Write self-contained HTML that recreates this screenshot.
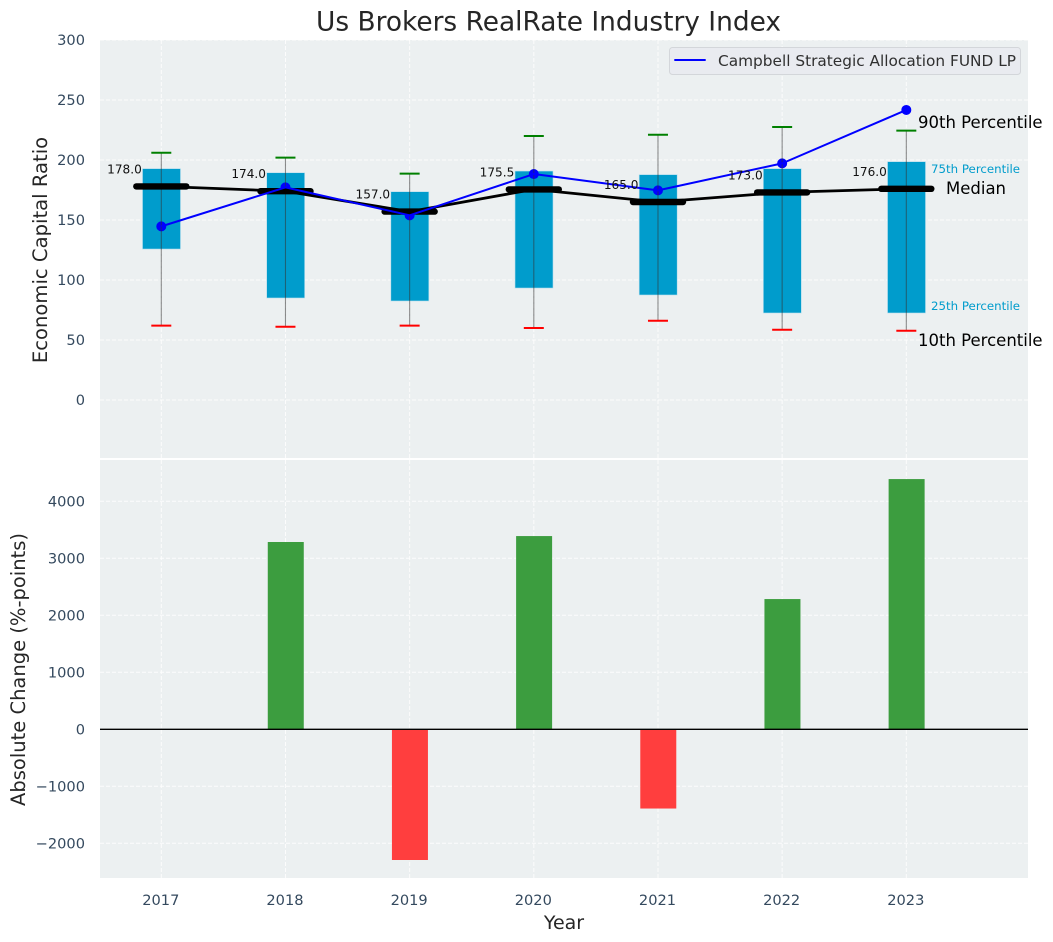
<!DOCTYPE html>
<html>
<head>
<meta charset="utf-8">
<title>Us Brokers RealRate Industry Index</title>
<style>
html,body{margin:0;padding:0;background:#fff;}
svg{display:block;font-family:"DejaVu Sans","Liberation Sans",sans-serif;}
</style>
</head>
<body>
<svg id="chart" xmlns="http://www.w3.org/2000/svg" width="1053" height="942" viewBox="0 0 1053 942"></svg>
<script>
const years = ['2017', '2018', '2019', '2020', '2021', '2022', '2023'];
const p10 = [62, 61, 62, 60, 66, 58.5, 57.7];
const p25 = [125.8, 85, 82.5, 93.3, 87.5, 72.5, 72.5];
const median = [178, 174, 157, 175.5, 165, 173, 176];
const p75 = [192.8, 189.4, 173.6, 190.8, 187.8, 192.8, 198.6];
const p90 = [206, 202, 188.6, 220, 221, 227.5, 224.5];
const fundValues = [144.7, 177.2, 153.9, 188.3, 174.7, 197.2, 241.7];
const absoluteChange = [0, 3286, -2293, 3390, -1390, 2285, 4390];
const topTicks = [0, 50, 100, 150, 200, 250, 300];
const bottomTicks = [-2000, -1000, 0, 1000, 2000, 3000, 4000];

const NS = 'http://www.w3.org/2000/svg';
const svg = document.getElementById('chart');
const LEFT = 100, RIGHT = 1028;
const TOP1 = 40, BOT1 = 458, TOP2 = 460, BOT2 = 878;

function xIdx(i) { return 161.3 + i * 124.17; }
function yTop(v) { return 400 - v * 1.2; }
function yBot(v) { return 729.3 - v * 0.057; }

function mk(tag, attrs, text) {
  const el = document.createElementNS(NS, tag);
  for (const k in attrs) el.setAttribute(k, attrs[k]);
  if (text !== undefined) el.textContent = text;
  svg.appendChild(el);
  return el;
}
function fmtTick(v) { return v < 0 ? '\u2212' + Math.abs(v) : String(v); }

let el;

/* panels */
el = mk('rect', {x: LEFT, y: TOP1, width: RIGHT - LEFT, height: BOT1 - TOP1, fill: '#ecf0f1'});


el = mk('rect', {x: LEFT, y: TOP2, width: RIGHT - LEFT, height: BOT2 - TOP2, fill: '#ecf0f1'});



/* grid + ticks */
const gridStyle = {stroke: '#ffffff', 'stroke-width': 1, 'stroke-dasharray': '4 2', opacity: 0.85};
years.forEach(function (yr, i) {
  el = mk('line', Object.assign({x1: xIdx(i), x2: xIdx(i), y1: TOP1, y2: BOT1}, gridStyle));
  
  
  el = mk('line', Object.assign({x1: xIdx(i), x2: xIdx(i), y1: TOP2, y2: BOT2}, gridStyle));
  
  
  el = mk('text', {x: xIdx(i) - 0.5, y: 905, 'text-anchor': 'middle', 'font-size': 14.6, fill: '#34495e'}, yr);
  
  
});
topTicks.forEach(function (t) {
  el = mk('line', Object.assign({x1: LEFT, x2: RIGHT, y1: yTop(t), y2: yTop(t)}, gridStyle));
  
  
  el = mk('text', {x: 85, y: yTop(t) + 5, 'text-anchor': 'end', 'font-size': 14.6, fill: '#34495e'}, fmtTick(t));
  
  
});
bottomTicks.forEach(function (t) {
  el = mk('line', Object.assign({x1: LEFT, x2: RIGHT, y1: yBot(t), y2: yBot(t)}, gridStyle));
  
  
  el = mk('text', {x: 85, y: yBot(t) + 5, 'text-anchor': 'end', 'font-size': 14.6, fill: '#34495e'}, fmtTick(t));
  
  
});

/* boxes */
years.forEach(function (yr, i) {
  const cx = xIdx(i);
  el = mk('rect', {x: cx - 18.8, y: yTop(p75[i]), width: 38, height: yTop(p25[i]) - yTop(p75[i]), fill: '#009ccc', stroke: '#b9dfee', 'stroke-width': 0.6});
  
  
});

/* fund points sit beneath whiskers and median bars */
fundValues.forEach(function (v, i) {
  el = mk('circle', {cx: xIdx(i), cy: yTop(v), r: 5, fill: '#0000ff'});
  
  
});

years.forEach(function (yr, i) {
  const cx = xIdx(i);
  el = mk('line', {x1: cx, x2: cx, y1: yTop(p90[i]), y2: yTop(p10[i]), stroke: '#333333', 'stroke-width': 1.1, opacity: 0.55});
  
  
  el = mk('line', {x1: cx - 10, x2: cx + 10, y1: yTop(p90[i]), y2: yTop(p90[i]), stroke: '#008000', 'stroke-width': 2});
  
  
  el = mk('line', {x1: cx - 10, x2: cx + 10, y1: yTop(p10[i]), y2: yTop(p10[i]), stroke: '#ff0000', 'stroke-width': 2});
  
  
  el = mk('line', {x1: cx - 25, x2: cx + 25, y1: yTop(median[i]), y2: yTop(median[i]), stroke: '#000000', 'stroke-width': 6.4, 'stroke-linecap': 'round'});
  
  
});

/* median line */
el = mk('polyline', {points: median.map(function (v, i) { return xIdx(i) + ',' + yTop(v); }).join(' '), fill: 'none', stroke: '#000000', 'stroke-width': 2.8, 'stroke-linejoin': 'round'});



/* fund line */
el = mk('polyline', {points: fundValues.map(function (v, i) { return xIdx(i) + ',' + yTop(v); }).join(' '), fill: 'none', stroke: '#0000ff', 'stroke-width': 2, 'stroke-linejoin': 'round'});



/* median value labels */
median.forEach(function (v, i) {
  el = mk('text', {x: xIdx(i) - 19.5, y: yTop(v) - 13, 'text-anchor': 'end', 'font-size': 12.1, fill: '#111111'}, v.toFixed(1));
  
  
});

/* bottom bars */
absoluteChange.forEach(function (v, i) {
  if (v === 0) return;
  const y0 = yBot(Math.max(v, 0));
  const y1 = yBot(Math.min(v, 0));
  el = mk('rect', {x: xIdx(i) - 17.7, y: y0, width: 36, height: y1 - y0, fill: v > 0 ? '#3c9d3f' : '#ff3e3e'});
  
  
});
el = mk('line', {x1: LEFT, x2: RIGHT, y1: yBot(0), y2: yBot(0), stroke: '#000000', 'stroke-width': 1.4});



/* annotations */
el = mk('text', {x: 918, y: 128, 'font-size': 16.5, fill: '#000000'}, '90th Percentile');


el = mk('text', {x: 931, y: 173, 'font-size': 11.8, fill: '#009ccc'}, '75th Percentile');


el = mk('text', {x: 946, y: 194, 'font-size': 16.5, fill: '#000000'}, 'Median');


el = mk('text', {x: 931, y: 310, 'font-size': 11.8, fill: '#009ccc'}, '25th Percentile');


el = mk('text', {x: 918, y: 346, 'font-size': 16.5, fill: '#000000'}, '10th Percentile');



/* legend */
el = mk('rect', {x: 669.5, y: 47.5, width: 351, height: 27, rx: 3, fill: '#e9ebf0', stroke: '#d3d6da', 'stroke-width': 1});


el = mk('line', {x1: 674.3, x2: 705.7, y1: 60, y2: 60, stroke: '#0000ff', 'stroke-width': 2});


el = mk('text', {x: 718, y: 66, 'font-size': 15.3, textLength: 298, lengthAdjust: 'spacingAndGlyphs', fill: '#303030'}, 'Campbell Strategic Allocation FUND LP');



/* titles */
el = mk('text', {x: 548.5, y: 30.5, 'text-anchor': 'middle', 'font-size': 26.4, fill: '#262626'}, 'Us Brokers RealRate Industry Index');


el = mk('text', {x: 564, y: 929, 'text-anchor': 'middle', 'font-size': 19, fill: '#262626'}, 'Year');


el = mk('text', {transform: 'translate(47,250) rotate(-90)', 'text-anchor': 'middle', 'font-size': 19.6, fill: '#262626'}, 'Economic Capital Ratio');


el = mk('text', {transform: 'translate(25,669.5) rotate(-90)', 'text-anchor': 'middle', 'font-size': 19.5, fill: '#262626'}, 'Absolute Change (%-points)');


</script>
</body>
</html>
